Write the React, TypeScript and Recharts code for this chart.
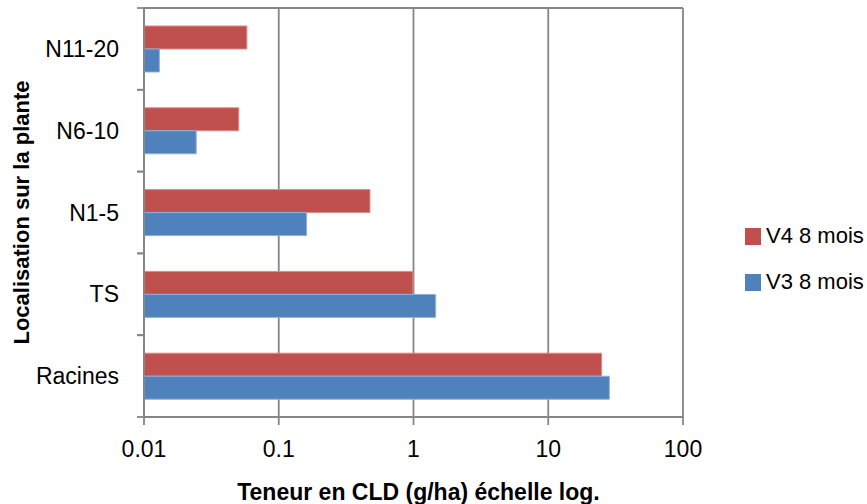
import React from 'react';
import { BarChart, Bar, XAxis, YAxis, CartesianGrid, Legend, Label } from 'recharts';

const categories = ['N11-20', 'N6-10', 'N1-5', 'TS', 'Racines'];
const v4Values = [0.058, 0.0505, 0.475, 0.99, 24.9];
const v3Values = [0.013, 0.0244, 0.161, 1.46, 28.4];
const xTicks = [0.01, 0.1, 1, 10, 100];
const seriesNames = ['V4 8 mois', 'V3 8 mois'];
const xTitle = 'Teneur en CLD (g/ha) échelle log.';
const yTitle = 'Localisation  sur  la plante';

const data = categories.map((c, i) => ({ name: c, v4: v4Values[i], v3: v3Values[i] }));

const FONT = '"Liberation Sans Narrow", "Liberation Sans", Arial, sans-serif';
const GRID = '#868686';
const RED = '#C0504D';
const BLUE = '#4F81BD';

const YTick = (props: any) => {
  const { x, y, payload } = props;
  const half = payload && typeof payload.offset === 'number' && payload.offset > 0 ? payload.offset : 40.9;
  return (
    <g>
      <line x1={x + 18} x2={x + 25} y1={y - half} y2={y - half} stroke={GRID} strokeWidth={1.8} />
      <line x1={x + 18} x2={x + 25} y1={y + half} y2={y + half} stroke={GRID} strokeWidth={1.8} />
      <text x={x} y={y} textAnchor="end" dominantBaseline="central" fontSize={23} fill="#000" fontFamily={FONT}>
        {payload.value}
      </text>
    </g>
  );
};

const LegendContent = (props: any) => {
  const payload = [...(props.payload || [])].sort(
    (a: any, b: any) => seriesNames.indexOf(a.value) - seriesNames.indexOf(b.value)
  );
  return (
    <div style={{ fontFamily: FONT, fontSize: 22, color: '#000' }}>
      {payload.map((p: any, i: number) => (
        <div key={i} style={{ display: 'flex', alignItems: 'center', height: 46 }}>
          <div style={{ width: 16, height: 17, flexShrink: 0, background: p.color, marginRight: 5 }} />
          <span style={{ whiteSpace: 'nowrap' }}>{p.value}</span>
        </div>
      ))}
    </div>
  );
};

export default function App() {
  return (
    <div style={{ position: 'absolute', left: 0, top: 0, width: 867, height: 504, background: '#fff' }}>
      <BarChart
        width={867}
        height={504}
        data={data}
        layout="vertical"
        margin={{ top: 8, right: 184, bottom: 0, left: 0 }}
        barCategoryGap="22%"
        barGap={0}
      >
        <CartesianGrid
          stroke={GRID}
          strokeWidth={1.8}
          horizontal={true}
          vertical={true}
          horizontalCoordinatesGenerator={(args: any) => [args.offset.top]}
        />
        <XAxis
          type="number"
          scale="log"
          domain={[0.01, 100]}
          ticks={xTicks}
          allowDataOverflow
          height={87}
          tickSize={8}
          tickMargin={16}
          stroke={GRID}
          strokeWidth={1.8}
          tick={{ fill: '#000', fontSize: 23, fontFamily: FONT }}
          tickFormatter={(v: number) => String(v)}
        >
          <Label
            content={(p: any) => {
              const vb = p.viewBox;
              return (
                <text
                  x={vb.x + vb.width / 2 + 5}
                  y={492}
                  textAnchor="middle"
                  dominantBaseline="central"
                  fontSize={23}
                  fontWeight="bold"
                  fontFamily={FONT}
                  fill="#000"
                >
                  {xTitle}
                </text>
              );
            }}
          />
        </XAxis>
        <YAxis
          type="category"
          dataKey="name"
          width={144}
          tickSize={7}
          tickMargin={18}
          tickLine={false}
          stroke={GRID}
          strokeWidth={1.8}
          tick={<YTick />}
        >
          <Label
            content={(p: any) => {
              const vb = p.viewBox;
              const cy = vb.y + vb.height / 2;
              return (
                <text
                  x={21}
                  y={cy}
                  transform={`rotate(-90, 21, ${cy})`}
                  textAnchor="middle"
                  dominantBaseline="central"
                  fontSize={22}
                  fontWeight="bold"
                  fontFamily={FONT}
                  fill="#000"
                >
                  {yTitle}
                </text>
              );
            }}
          />
        </YAxis>
        <Legend
          layout="horizontal"
          align="center"
          verticalAlign="middle"
          content={<LegendContent />}
          wrapperStyle={{ left: 745, top: 213, width: 122 }}
        />
        <Bar dataKey="v4" name={seriesNames[0]} fill={RED} stroke="#D98C8A" strokeWidth={1} isAnimationActive={false} />
        <Bar dataKey="v3" name={seriesNames[1]} fill={BLUE} stroke="#8FB0DA" strokeWidth={1} isAnimationActive={false} />
      </BarChart>
    </div>
  );
}
